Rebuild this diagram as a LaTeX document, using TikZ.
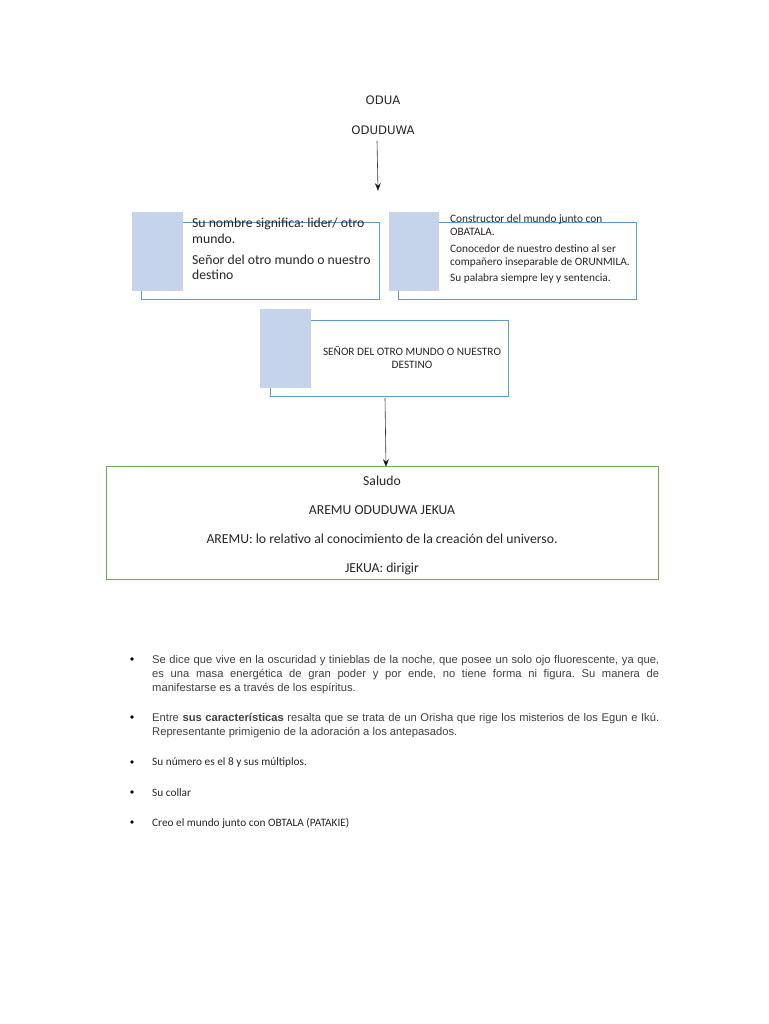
\documentclass[tikz,border=0pt]{standalone}
\usepackage{fontspec}
\setmainfont{Carlito}
\newfontfamily\dvs{DejaVu Sans}
\newfontfamily\lsans{Liberation Sans}
\usetikzlibrary{arrows.meta}
\definecolor{fillblue}{HTML}{C5D4EA}
\definecolor{lineblue}{HTML}{5B9BD5}
\definecolor{linegreen}{HTML}{70AD47}
\definecolor{txt}{HTML}{262626}
\frenchspacing
\tikzset{
  x=1pt, y=-1pt,
  outl/.style={draw=lineblue, line width=0.8pt},
  blk/.style={fill=fillblue, draw=none},
  ln/.style={anchor=base west, inner sep=0pt, text=txt},
  lc/.style={anchor=base, inner sep=0pt, text=txt},
  big/.style={font=\fontsize{13.7}{15}\selectfont},
  small/.style={font=\fontsize{11.3}{13}\selectfont},
  arr/.style={draw=black!80, line width=0.6pt, -{Stealth[length=8pt,width=6pt,fill=black]}},
  bul/.style={circle, fill=black, inner sep=0pt, minimum size=3.8pt},
  para/.style={anchor=base west, inner sep=0pt, text=black!75, font=\lsans\fontsize{11.2}{13}\selectfont},
}
\begin{document}
\begin{tikzpicture}
\useasboundingbox[fill=white] (0,0) rectangle (768,1024);

% top titles
\node[lc, font=\dvs\fontsize{11.7}{13}\selectfont] (odua) at (383,104.5) {ODUA};
\node[lc, font=\dvs\fontsize{11.7}{13}\selectfont] (oduduwa) at (383,134.5) {ODUDUWA};
\coordinate (a1s) at (377,141);
\coordinate (a1e) at (378,191);
\draw[arr] (a1s) -- (a1e);

% box 1
\draw[outl] (141,222) rectangle (379,299);
\fill[blk] (132,212) rectangle (183,291);
\node[ln,big] (b1l1) at (192,227.5) {Su nombre significa: lider/ otro};
\node[ln,big] (b1l2) at (192,243.5) {mundo.};
\node[ln,big] (b1l3) at (192,264) {Señor del otro mundo o nuestro};
\node[ln,big] (b1l4) at (192,279.5) {destino};

% box 2
\draw[outl] (398,222) rectangle (636,299);
\fill[blk] (389,212) rectangle (439,291);
\node[ln,small] (b2l1) at (450,222.5) {Constructor del mundo junto con};
\node[ln,small] (b2l2) at (450,235.5) {OBATALA.};
\node[ln,small] (b2l3) at (450,252.5) {Conocedor de nuestro destino al ser};
\node[ln,small] (b2l4) at (450,265.5) {compañero inseparable de ORUNMILA.};
\node[ln,small] (b2l5) at (450,281.5) {Su palabra siempre ley y sentencia.};

% box 3
\draw[outl] (270,320) rectangle (508,396);
\fill[blk] (260,309) rectangle (311,388);
\node[lc,small] (b3l1) at (412,355.5) {SEÑOR DEL OTRO MUNDO O NUESTRO};
\node[lc,small] (b3l2) at (412,368.5) {DESTINO};
\coordinate (a2s) at (385,398);
\coordinate (a2e) at (386,467);
\draw[arr] (a2s) -- (a2e);

% green box
\draw[draw=linegreen, line width=1pt] (106,466) rectangle (658,579);
\node[lc,big] (g1) at (382,485) {Saludo};
\node[lc,big] (g2) at (382,514) {AREMU ODUDUWA JEKUA};
\node[lc,big] (g3) at (382,543) {AREMU: lo relativo al conocimiento de la creación del universo.};
\node[lc,big] (g4) at (382,572) {JEKUA: dirigir};

% bullets
\node[bul] (u1) at (132,659) {};
\node[para] (p1a) at (152,663) {\makebox[507pt][s]{Se dice que vive en la oscuridad y tinieblas de la noche, que posee un solo ojo fluorescente, ya que,}};
\node[para] (p1b) at (152,677) {\makebox[507pt][s]{es una masa energética de gran poder y por ende, no tiene forma ni figura. Su manera de}};
\node[para] (p1c) at (152,691) {manifestarse es a través de los espíritus.};

\node[bul] (u2) at (132,717) {};
\node[para] (p2a) at (152,721) {\makebox[507pt][s]{Entre \textbf{sus características} resalta que se trata de un Orisha que rige los misterios de los Egun e Ikú.}};
\node[para] (p2b) at (152,735) {Representante primigenio de la adoración a los antepasados.};

\node[bul] (u3) at (132,762) {};
\node[ln,small,text=black!85] (p3) at (152,765.5) {Su número es el 8 y sus múltiplos.};
\node[bul] (u4) at (132,792) {};
\node[ln,small,text=black!85] (p4) at (152,796) {Su collar};
\node[bul] (u5) at (132,822) {};
\node[ln,small,text=black!85] (p5) at (152,826) {Creo el mundo junto con OBTALA (PATAKIE)};
\end{tikzpicture}
\end{document}
